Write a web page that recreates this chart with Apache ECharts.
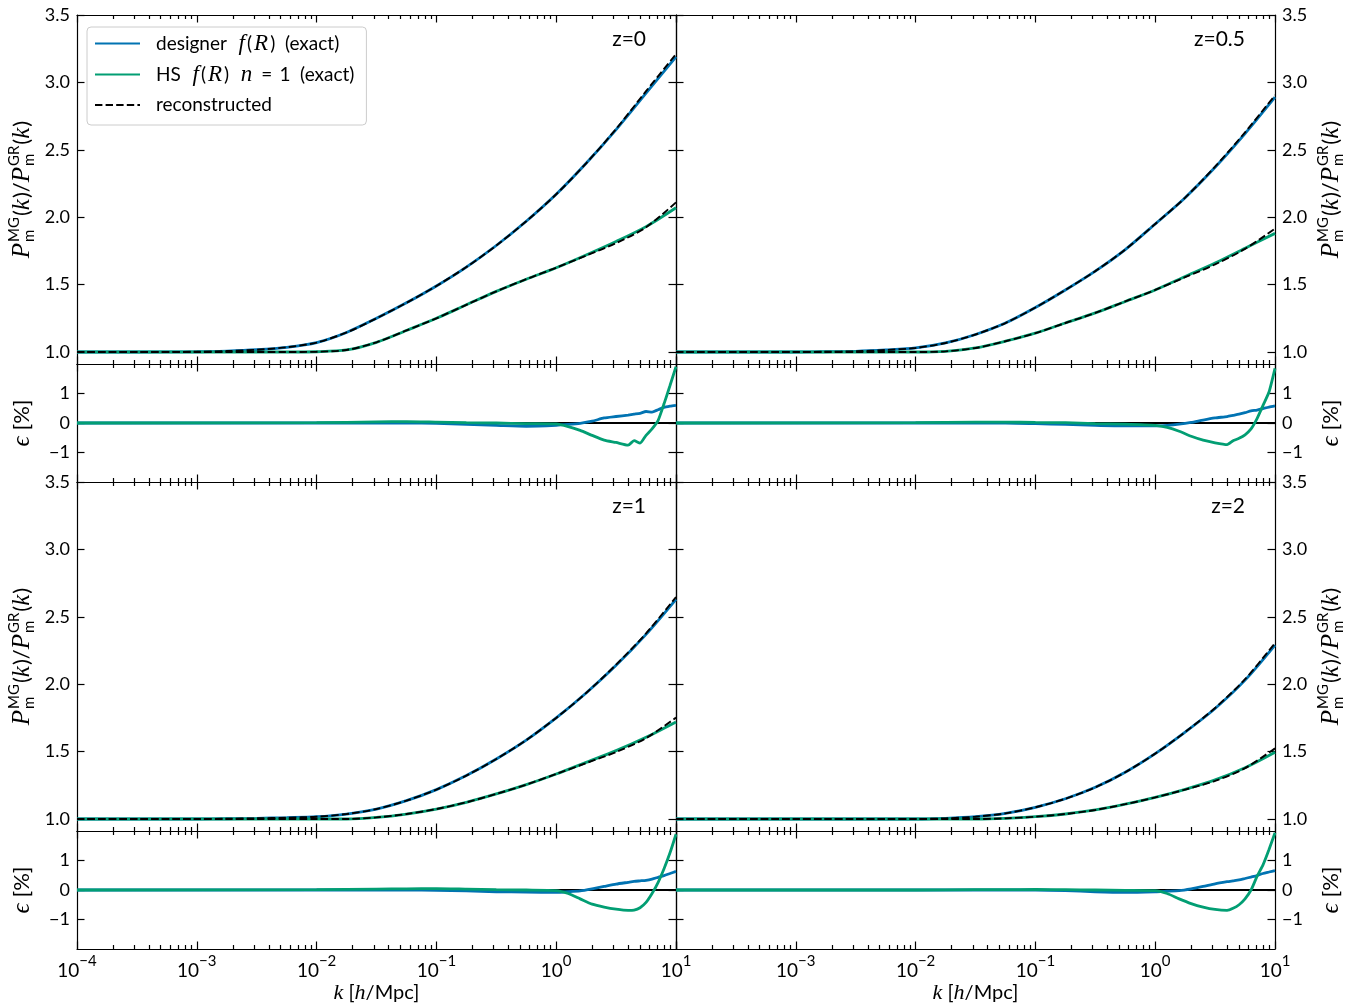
<!DOCTYPE html>
<html><head><meta charset="utf-8">
<script src="https://cdn.jsdelivr.net/npm/echarts@6/dist/echarts.min.js"></script>
<style>html,body{margin:0;padding:0;background:#fff}#c{width:1354px;height:1004px}</style>
</head><body><div id="c"></div><script>
// ---------- data ----------
const kMain = [1e-4, 3.162e-4, 1e-3, 1.778e-3, 3.162e-3, 5.623e-3, 0.01, 0.01778, 0.03162, 0.05623, 0.1, 0.1778, 0.3162, 0.5623, 1, 1.778, 3.162, 5.623, 10];

const z0Designer    = [1.0, 1.0, 1.002, 1.007, 1.017, 1.035, 1.07, 1.145, 1.25, 1.365, 1.49, 1.63, 1.79, 1.97, 2.17, 2.40, 2.65, 2.92, 3.19];
const z0DesignerRec = [1.0, 1.0, 1.002, 1.007, 1.017, 1.035, 1.07, 1.145, 1.25, 1.365, 1.49, 1.63, 1.79, 1.97, 2.17, 2.40, 2.655, 2.935, 3.21];
const z0HS          = [1.0, 1.0, 1.0, 1.0, 1.0, 1.0, 1.002, 1.015, 1.072, 1.16, 1.25, 1.35, 1.45, 1.54, 1.625, 1.72, 1.82, 1.93, 2.07];
const z0HSRec       = [1.0, 1.0, 1.0, 1.0, 1.0, 1.0, 1.002, 1.015, 1.072, 1.16, 1.25, 1.35, 1.45, 1.54, 1.625, 1.715, 1.808, 1.925, 2.11];

const z05Designer    = [1.0, 1.0, 1.0, 1.002, 1.005, 1.015, 1.03, 1.067, 1.13, 1.215, 1.33, 1.46, 1.60, 1.76, 1.95, 2.145, 2.37, 2.62, 2.89];
const z05DesignerRec = [1.0, 1.0, 1.0, 1.002, 1.005, 1.015, 1.03, 1.067, 1.13, 1.215, 1.33, 1.46, 1.60, 1.76, 1.95, 2.145, 2.375, 2.63, 2.905];
const z05HS          = [1.0, 1.0, 1.0, 1.0, 1.0, 1.0, 1.0, 1.005, 1.03, 1.08, 1.14, 1.215, 1.29, 1.375, 1.46, 1.56, 1.66, 1.77, 1.88];
const z05HSRec       = [1.0, 1.0, 1.0, 1.0, 1.0, 1.0, 1.0, 1.005, 1.03, 1.08, 1.14, 1.215, 1.29, 1.375, 1.46, 1.555, 1.65, 1.765, 1.915];

const z1Designer    = [1.0, 1.0, 1.0, 1.002, 1.005, 1.01, 1.017, 1.037, 1.074, 1.136, 1.218, 1.322, 1.445, 1.585, 1.75, 1.935, 2.14, 2.37, 2.63];
const z1DesignerRec = [1.0, 1.0, 1.0, 1.002, 1.005, 1.01, 1.017, 1.037, 1.074, 1.136, 1.218, 1.322, 1.445, 1.585, 1.75, 1.935, 2.145, 2.377, 2.647];
const z1HS          = [1.0, 1.0, 1.0, 1.0, 1.0, 1.0, 1.0, 1.0, 1.012, 1.037, 1.074, 1.124, 1.186, 1.255, 1.334, 1.42, 1.507, 1.606, 1.72];
const z1HSRec       = [1.0, 1.0, 1.0, 1.0, 1.0, 1.0, 1.0, 1.0, 1.012, 1.037, 1.074, 1.124, 1.186, 1.255, 1.334, 1.415, 1.497, 1.60, 1.752];

const z2Designer    = [1.0, 1.0, 1.0, 1.0, 1.0, 1.0, 1.0, 1.005, 1.017, 1.042, 1.087, 1.15, 1.235, 1.347, 1.485, 1.645, 1.82, 2.03, 2.29];
const z2DesignerRec = [1.0, 1.0, 1.0, 1.0, 1.0, 1.0, 1.0, 1.005, 1.017, 1.042, 1.087, 1.15, 1.235, 1.347, 1.485, 1.645, 1.824, 2.037, 2.305];
const z2HS          = [1.0, 1.0, 1.0, 1.0, 1.0, 1.0, 1.0, 1.0, 1.0, 1.005, 1.017, 1.037, 1.067, 1.11, 1.16, 1.22, 1.29, 1.38, 1.495];
const z2HSRec       = [1.0, 1.0, 1.0, 1.0, 1.0, 1.0, 1.0, 1.0, 1.0, 1.005, 1.017, 1.037, 1.067, 1.11, 1.16, 1.218, 1.283, 1.377, 1.524];

// residuals epsilon [%]
const kRes = [1e-4, 0.01, 0.03162, 0.05623, 0.1, 0.1778, 0.3162, 0.5623, 1, 1.259, 1.585, 1.995, 2.512, 3.162, 3.981, 4.467, 5.012, 5.623, 6.310, 7.079, 7.943, 8.913, 10];
const z0DesignerEps  = [0, 0, 0, 0, -0.01, -0.05, -0.08, -0.11, -0.08, -0.05, -0.01, 0.06, 0.17, 0.22, 0.27, 0.30, 0.33, 0.39, 0.37, 0.45, 0.53, 0.57, 0.60];
const z0HSEps        = [0, 0.01, 0.04, 0.05, 0.03, 0.01, 0, -0.02, -0.03, -0.12, -0.25, -0.42, -0.58, -0.66, -0.75, -0.60, -0.68, -0.42, -0.20, 0.08, 0.65, 1.27, 1.91];
const z05DesignerEps = [0, 0, 0, 0, -0.02, -0.05, -0.08, -0.10, -0.10, -0.08, -0.04, 0.02, 0.10, 0.17, 0.22, 0.26, 0.30, 0.35, 0.41, 0.44, 0.49, 0.54, 0.58];
const z05HSEps       = [0, 0.01, 0.03, 0.03, 0.02, 0.01, -0.02, -0.04, -0.08, -0.15, -0.28, -0.45, -0.58, -0.67, -0.73, -0.60, -0.52, -0.40, -0.20, 0.15, 0.60, 1.05, 1.85];
const z1DesignerEps  = [0, 0, 0, 0, -0.01, -0.03, -0.06, -0.07, -0.08, -0.06, -0.03, 0.04, 0.12, 0.20, 0.26, 0.29, 0.31, 0.33, 0.37, 0.43, 0.49, 0.56, 0.63];
const z1HSEps        = [0, 0.01, 0.03, 0.04, 0.05, 0.03, 0.01, 0, -0.02, -0.12, -0.30, -0.48, -0.58, -0.65, -0.69, -0.68, -0.60, -0.42, -0.12, 0.25, 0.72, 1.26, 1.89];
const z2DesignerEps  = [0, 0, 0, 0, 0, -0.02, -0.06, -0.08, -0.06, -0.04, -0.02, 0.04, 0.12, 0.21, 0.28, 0.31, 0.34, 0.39, 0.44, 0.49, 0.56, 0.61, 0.66];
const z2HSEps        = [0, 0, 0.01, 0.01, 0.02, 0.01, 0, -0.01, -0.02, -0.12, -0.30, -0.46, -0.58, -0.66, -0.69, -0.62, -0.50, -0.30, 0.0, 0.46, 0.85, 1.37, 1.94];

const panelTitles = ['z=0', 'z=0.5', 'z=1', 'z=2'];
const mainTicks = [1.0, 1.5, 2.0, 2.5, 3.0, 3.5];
const resTicks = [-1, 0, 1];
const xMajor = [1e-4, 1e-3, 1e-2, 1e-1, 1, 10];

// ---------- styling / layout ----------
const BLUE = '#0173B2', GREEN = '#029E73';
const SANS = "Lato, 'DejaVu Sans', sans-serif";
const SERIF = "'Liberation Serif', 'DejaVu Serif', serif";
const xMinor = [];
for (let d = -4; d <= 0; d++) for (let m = 2; m <= 9; m++) xMinor.push(+(m * Math.pow(10, d)).toPrecision(3));

const colLeft = [77, 676], colW = 599;
const rowTop = [15, 482], mainH = 349, resH = 118;

const panels = [
  {row: 0, col: 0, des: z0Designer, desRec: z0DesignerRec, hs: z0HS, hsRec: z0HSRec, desEps: z0DesignerEps, hsEps: z0HSEps},
  {row: 0, col: 1, des: z05Designer, desRec: z05DesignerRec, hs: z05HS, hsRec: z05HSRec, desEps: z05DesignerEps, hsEps: z05HSEps},
  {row: 1, col: 0, des: z1Designer, desRec: z1DesignerRec, hs: z1HS, hsRec: z1HSRec, desEps: z1DesignerEps, hsEps: z1HSEps},
  {row: 1, col: 1, des: z2Designer, desRec: z2DesignerRec, hs: z2HS, hsRec: z2HSRec, desEps: z2DesignerEps, hsEps: z2HSEps}
];

const axLine = {color: '#000', width: 1.2};
const grids = [], xAxes = [], yAxes = [], series = [];

function xLabelFmt(hideFirst) {
  return function (v) {
    const e = Math.round(Math.log10(v));
    if (hideFirst && e === -4) return '';
    return '{b|10}{s|' + (e < 0 ? '\u2212' + (-e) : e) + '}';
  };
}
const xRich = {
  b: {fontSize: 19, fontFamily: SANS, color: '#000', lineHeight: 26, verticalAlign: 'bottom'},
  s: {fontSize: 15, fontFamily: SANS, color: '#000', lineHeight: 26, verticalAlign: 'top'}
};

function addGrid(top, height, left, isRes, col, showX) {
  const g = grids.length;
  grids.push({left: left, top: top, width: colW, height: height, containLabel: false, outerBoundsMode: 'none'});
  const base = {gridIndex: g, type: 'log', logBase: 10, min: 1e-4, max: 10, splitLine: {show: false}, minorTick: {show: false}, silent: true};
  const xi = xAxes.length;
  xAxes.push(Object.assign({}, base, {position: 'bottom',
    axisLine: {show: true, onZero: false, lineStyle: axLine},
    axisTick: {show: true, inside: true, length: 7.5, customValues: xMajor, lineStyle: axLine},
    axisLabel: {show: showX, customValues: xMajor, formatter: xLabelFmt(col === 1), rich: xRich, margin: 5},
    name: showX ? '{i|k} [{i|h}/Mpc]' : '', nameLocation: 'middle', nameGap: 33,
    nameTextStyle: {fontSize: 20, fontFamily: SANS, color: '#000', rich: {i: {fontFamily: SERIF, fontStyle: 'italic', fontSize: 22, color: '#000'}}}
  }));
  xAxes.push(Object.assign({}, base, {position: 'bottom', axisLine: {show: false, onZero: false},
    axisTick: {show: true, inside: true, length: 4, customValues: xMinor, lineStyle: axLine}, axisLabel: {show: false}}));
  xAxes.push(Object.assign({}, base, {position: 'top', axisLine: {show: true, onZero: false, lineStyle: axLine},
    axisTick: {show: true, inside: true, length: 7.5, customValues: xMajor, lineStyle: axLine}, axisLabel: {show: false}}));
  xAxes.push(Object.assign({}, base, {position: 'top', axisLine: {show: false, onZero: false},
    axisTick: {show: true, inside: true, length: 4, customValues: xMinor, lineStyle: axLine}, axisLabel: {show: false}}));

  const ticks = isRes ? resTicks : mainTicks;
  const ybase = {gridIndex: g, type: 'value', min: isRes ? -2 : 0.911, max: isRes ? 2 : 3.5, splitLine: {show: false}, silent: true,
    axisLine: {show: true, onZero: false, lineStyle: axLine},
    axisTick: {show: true, inside: true, length: 7.5, customValues: ticks, lineStyle: axLine}};
  const lab = {customValues: ticks, fontSize: 18, fontFamily: SANS, color: '#000', margin: 7,
    formatter: v => isRes ? (v < 0 ? '\u2212' + (-v) : String(v)) : v.toFixed(1)};
  const yi = yAxes.length;
  yAxes.push(Object.assign({}, ybase, {position: 'left', axisLabel: Object.assign({show: col === 0}, lab)}));
  yAxes.push(Object.assign({}, ybase, {position: 'right', axisLabel: Object.assign({show: col === 1}, lab)}));
  return {xi: xi, yi: yi};
}

function lineSeries(name, xi, yi, xs, ys, color, width, dashed, smooth) {
  return {
    type: 'line', name: name, xAxisIndex: xi, yAxisIndex: yi, symbol: 'none', showSymbol: false,
    smooth: smooth, animation: false, silent: true, clip: true,
    lineStyle: {color: color, width: width, type: dashed ? [7.4, 3.2] : 'solid'},
    itemStyle: {color: color},
    data: xs.map((k, i) => [k, ys[i]])
  };
}

panels.forEach(p => {
  const top = rowTop[p.row], left = colLeft[p.col];
  const m = addGrid(top, mainH, left, false, p.col, false);
  series.push(lineSeries('designer', m.xi, m.yi, kMain, p.des, BLUE, 2.8, false, 0.3));
  series.push(lineSeries('HS', m.xi, m.yi, kMain, p.hs, GREEN, 2.8, false, 0.3));
  series.push(lineSeries('reconstructed', m.xi, m.yi, kMain, p.desRec, '#000', 1.9, true, 0.3));
  series.push(lineSeries('reconstructed', m.xi, m.yi, kMain, p.hsRec, '#000', 1.9, true, 0.3));
  const r = addGrid(top + mainH, resH, left, true, p.col, p.row === 1);
  series.push(lineSeries('zero', r.xi, r.yi, [1e-4, 10], [0, 0], '#000', 1.8, false, false));
  series.push(lineSeries('designer', r.xi, r.yi, kRes, p.desEps, BLUE, 2.8, false, 0.2));
  series.push(lineSeries('HS', r.xi, r.yi, kRes, p.hsEps, GREEN, 2.8, false, 0.2));
});

// ---------- y labels as composed math text ----------
const cv = document.createElement('canvas').getContext('2d');
function tw(font, s) { cv.font = font; return cv.measureText(s).width; }
const F_MAIN = "22px " + SANS, F_IT = "italic 25px " + SERIF, F_SMALL = "15px " + SANS;
function mathLabel(parts, cx, cy) {
  const items = []; let x = 0;
  parts.forEach(p => {
    if (p.stack) {
      items.push({x: x, y: -8, t: p.sup, font: F_SMALL});
      items.push({x: x, y: 7, t: p.sub, font: F_SMALL});
      x += Math.max(tw(F_SMALL, p.sup), tw(F_SMALL, p.sub)) + 1;
    } else {
      items.push({x: x, y: 0, t: p.t, font: p.font});
      x += tw(p.font, p.t) + (p.after || 0);
    }
  });
  const W = x;
  return {type: 'group', x: cx, y: cy, rotation: Math.PI / 2, silent: true,
    children: items.map(it => ({type: 'text', x: it.x - W / 2, y: it.y,
      style: {text: it.t, font: it.font, fill: '#000', verticalAlign: 'middle', align: 'left'}}))};
}
const pLabel = [
  {t: 'P', font: F_IT, after: 1}, {stack: true, sup: 'MG', sub: 'm'}, {t: '(', font: F_MAIN}, {t: 'k', font: F_IT, after: 1}, {t: ')/', font: F_MAIN},
  {t: 'P', font: F_IT, after: 1}, {stack: true, sup: 'GR', sub: 'm'}, {t: '(', font: F_MAIN}, {t: 'k', font: F_IT, after: 1}, {t: ')', font: F_MAIN}
];
const eLabel = [{t: '\u03f5', font: F_IT, after: 6}, {t: '[%]', font: F_MAIN}];

const graphics = [];
[0, 1].forEach(row => {
  const mc = rowTop[row] + mainH / 2, rc = rowTop[row] + mainH + resH / 2;
  graphics.push(mathLabel(pLabel, 22, mc));
  graphics.push(mathLabel(pLabel, 1331, mc));
  graphics.push(mathLabel(eLabel, 22, rc));
  graphics.push(mathLabel(eLabel, 1331, rc));
});
panels.forEach((p, i) => {
  graphics.push({type: 'text', silent: true, x: colLeft[p.col] + colW - 30, y: rowTop[p.row] + 24,
    style: {text: panelTitles[i], font: "21px " + SANS, fill: '#000', align: 'right', verticalAlign: 'middle'}});
});

const chart = echarts.init(document.getElementById('c'), null, {renderer: 'canvas'});
chart.setOption({
  animation: false,
  backgroundColor: '#fff',
  grid: grids, xAxis: xAxes, yAxis: yAxes, series: series,
  graphic: graphics,
  legend: {
    data: ['designer', 'HS', 'reconstructed'], orient: 'vertical', left: 87, top: 27,
    itemWidth: 45, itemHeight: 14, itemGap: 8, padding: [5, 12, 9, 7],
    backgroundColor: 'rgba(255,255,255,0.85)', borderColor: '#cccccc', borderWidth: 1, borderRadius: 4,
    selectedMode: false,
    itemStyle: {opacity: 0},
    formatter: n => n === 'designer' ? 'designer  {i|f}({i|R})  (exact)'
      : n === 'HS' ? 'HS  {i|f}({i|R})  {i|n}{e|=}1  (exact)' : 'reconstructed',
    textStyle: {fontSize: 19, fontFamily: SANS, color: '#000', padding: [0, 0, 0, 11], lineHeight: 22,
      rich: {
        i: {fontFamily: SERIF, fontStyle: 'italic', fontSize: 23, color: '#000', padding: [0, 2, 0, 2]},
        e: {fontFamily: SANS, fontSize: 19, color: '#000', padding: [0, 7, 0, 7]}
      }}
  }
});
</script></body></html>
